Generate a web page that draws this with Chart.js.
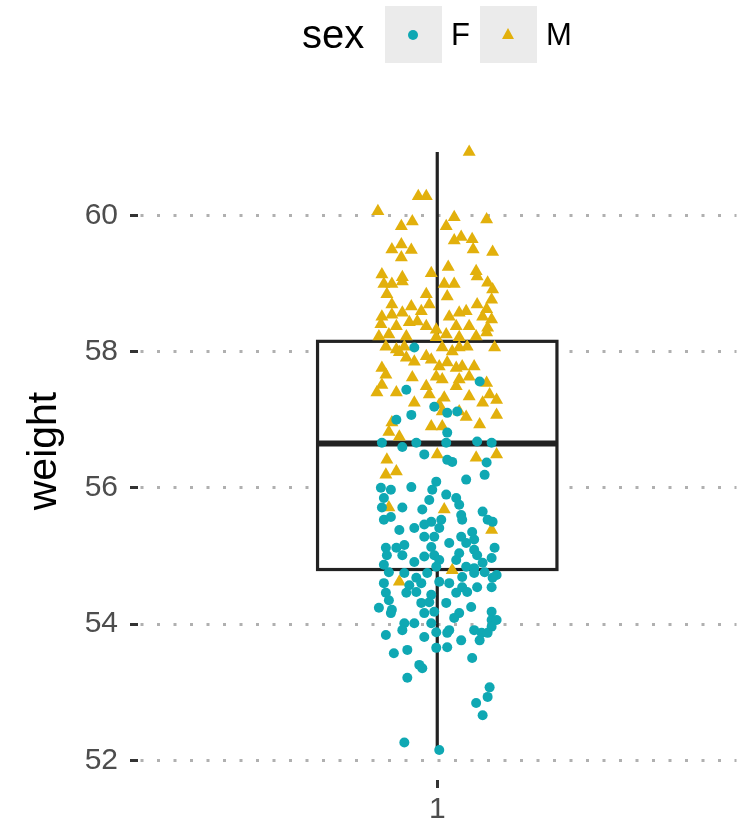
<!DOCTYPE html>
<html>
<head>
<meta charset="utf-8">
<script src="https://cdn.jsdelivr.net/npm/chart.js@4.4.0/dist/chart.umd.min.js"></script>
<style>
  body { margin: 0; background: #fff; font-family: "Liberation Sans", Arial, sans-serif; }
  #wrap { position: relative; width: 744px; height: 827px; }
  .lg { position: absolute; top: 6px; height: 57px; line-height: 57px; color: #000; }
  .key { position: absolute; top: 6px; width: 57px; height: 57px; background: #ebebeb; }
</style>
</head>
<body>
<div id="wrap">
  <canvas id="chart"></canvas>
  <!-- legend -->
  <div class="lg" style="left:302px; font-size:40px;">sex</div>
  <div class="key" style="left:385px;"><div style="position:absolute; left:23px; top:24px; width:10px; height:10px; border-radius:50%; background:#0FA8B3;"></div></div>
  <div class="lg" style="left:451px; font-size:31px;">F</div>
  <div class="key" style="left:480px;"><div style="position:absolute; left:22px; top:22px; width:0; height:0; border-left:6.5px solid transparent; border-right:6.5px solid transparent; border-bottom:11px solid #E2B00C;"></div></div>
  <div class="lg" style="left:546px; font-size:31px;">M</div>
</div>
<script>
// weight by sex, jittered around category 1
const categories = ['1'];
const yTicks = [52, 54, 56, 58, 60];
// [x (jittered), weight]
const femalePoints = [
  [0.954,58.06],[1.085,57.56],[0.938,57.44],[0.994,57.19],[0.948,57.07],[1.020,57.10],[1.040,57.12],[0.918,57.00],[1.020,56.81],
  [0.889,56.66],[0.930,56.60],[0.958,56.66],[1.018,56.66],[1.080,56.68],[1.109,56.66],[0.974,56.49],[1.020,56.41],[1.030,56.38],
  [1.099,56.37],[1.095,56.19],[1.058,56.12],[0.887,56.00],[0.907,55.97],[0.948,56.01],[0.998,56.09],[0.990,55.97],[0.893,55.85],
  [1.018,55.90],[1.038,55.85],[0.984,55.82],[1.044,55.75],[0.930,55.71],[0.889,55.71],[0.970,55.68],[1.091,55.65],[1.048,55.60],
  [0.893,55.53],[0.907,55.57],[0.988,55.50],[1.008,55.53],[1.050,55.53],[1.101,55.53],[1.111,55.50],[0.924,55.38],[0.954,55.41],
  [0.974,55.46],[1.004,55.41],[0.974,55.28],[1.070,55.35],[0.994,55.28],[1.048,55.28],[1.074,55.24],[0.897,55.12],[0.918,55.12],
  [0.934,55.16],[0.988,55.13],[1.024,55.19],[1.058,55.19],[1.074,55.09],[1.115,55.12],[0.899,55.01],[0.930,55.01],[0.974,54.99],
  [0.994,55.01],[1.044,55.04],[1.080,55.01],[1.109,54.97],[0.954,54.91],[1.004,54.94],[1.038,54.94],[0.893,54.87],[0.998,54.84],
  [1.058,54.84],[1.074,54.82],[1.091,54.90],[0.903,54.76],[0.934,54.75],[0.958,54.68],[0.980,54.75],[1.074,54.75],[1.095,54.76],
  [1.119,54.72],[1.050,54.69],[1.111,54.68],[0.893,54.60],[0.944,54.57],[0.968,54.60],[1.004,54.62],[1.024,54.60],[1.050,54.54],
  [1.080,54.54],[1.109,54.54],[0.897,54.46],[0.938,54.46],[0.958,54.47],[0.988,54.43],[1.038,54.46],[1.060,54.47],
  [0.903,54.35],[0.909,54.21],[0.883,54.24],[0.907,54.16],[0.968,54.31],[0.984,54.32],[0.974,54.16],[0.994,54.18],[1.018,54.31],
  [1.068,54.25],[1.044,54.16],[1.034,54.09],[1.109,54.18],[1.109,54.06],[1.119,54.06],[0.934,54.01],[0.954,54.01],[0.988,54.01],
  [1.024,53.91],[1.074,53.91],[1.089,53.87],[1.109,53.96],[1.101,53.87],[0.897,53.84],[0.930,53.91],[0.974,53.81],[0.998,53.88],
  [1.048,53.76],[1.020,53.87],[1.085,53.76],[0.998,53.65],[0.940,53.62],[0.913,53.57],[1.020,53.66],[1.070,53.50],[0.964,53.40],
  [0.970,53.35],[0.940,53.21],[1.105,53.07],[1.101,52.93],[1.078,52.84],[1.091,52.66],[0.934,52.26],[1.004,52.15]
];
const malePoints = [
  [1.064,60.93],[0.962,60.28],[0.978,60.28],[0.881,60.06],[0.928,59.84],[0.950,59.91],[1.034,59.97],[1.018,59.84],[1.099,59.94],
  [1.034,59.63],[1.048,59.68],[1.070,59.65],[1.072,59.50],[1.111,59.46],[0.909,59.50],[0.928,59.57],[0.948,59.49],[0.928,59.38],
  [0.889,59.13],[0.930,59.09],[0.988,59.15],[1.022,59.24],[1.078,59.18],[1.080,59.10],[0.893,58.99],[0.909,58.99],[0.930,59.03],
  [1.014,58.99],[1.034,58.99],[1.101,59.01],[1.111,58.91],[0.899,58.84],[0.978,58.84],[1.020,58.81],[1.109,58.76],[0.909,58.69],
  [0.948,58.66],[0.984,58.69],[1.080,58.69],[1.099,58.62],[0.889,58.51],[0.909,58.54],[0.930,58.57],[0.968,58.59],[1.024,58.51],
  [1.044,58.57],[1.058,58.59],[1.091,58.51],[1.109,58.47],[0.887,58.40],[0.918,58.37],[0.944,58.43],[0.960,58.44],[0.978,58.37],
  [0.998,58.32],[1.038,58.37],[1.064,58.37],[1.101,58.35],[0.883,58.22],[0.903,58.25],[0.938,58.22],[0.998,58.21],[1.018,58.25],
  [1.044,58.21],[1.078,58.22],[1.099,58.28],[0.897,58.07],[0.918,58.03],[0.934,58.07],[0.938,57.91],[1.010,58.06],[1.030,58.00],
  [1.044,58.06],[1.060,58.07],[1.115,58.06],[0.978,57.93],[0.924,57.99],[0.889,57.76],[0.954,57.85],[0.988,57.88],[1.004,57.78],
  [1.020,57.84],[1.038,57.76],[1.050,57.78],[1.074,57.78],[0.897,57.66],[0.950,57.62],[0.998,57.63],[1.010,57.59],[1.044,57.59],
  [1.064,57.63],[1.099,57.54],[0.889,57.51],[0.978,57.49],[1.038,57.49],[0.879,57.40],[0.918,57.40],[0.984,57.37],[1.014,57.32],
  [1.064,57.34],[1.105,57.37],[1.119,57.29],[0.954,57.25],[1.004,57.22],[1.091,57.25],[1.010,57.12],[1.044,57.12],[1.119,57.07],
  [1.058,57.04],[0.988,56.90],[1.085,56.93],[0.909,56.96],[0.903,56.82],[1.010,56.90],[0.924,56.75],[0.899,56.41],[1.000,56.49],
  [1.078,56.44],[1.119,56.49],[0.918,56.24],[0.897,56.19],[0.903,55.71],[1.014,55.68],[1.109,55.38],[1.030,54.79],[0.924,54.62]
];
// lower whisker, Q1, median, Q3, upper whisker
const boxValues = [52.15, 54.8, 56.65, 58.15, 60.93];

const BOX_HALF = 0.24;

const boxPlugin = {
  id: 'box',
  beforeDatasetsDraw(chart) {
    const { ctx, scales: { x, y } } = chart;
    const [lo, q1, med, q3, hi] = boxValues.map(v => y.getPixelForValue(v));
    const cx = x.getPixelForValue(1);
    const left = x.getPixelForValue(1 - BOX_HALF);
    const right = x.getPixelForValue(1 + BOX_HALF);
    ctx.save();
    ctx.strokeStyle = '#222';
    ctx.lineWidth = 3.2;
    ctx.beginPath();
    ctx.moveTo(cx, hi); ctx.lineTo(cx, q3);
    ctx.moveTo(cx, q1); ctx.lineTo(cx, lo);
    ctx.stroke();
    ctx.fillStyle = '#fff';
    ctx.fillRect(left, q3, right - left, q1 - q3);
    ctx.strokeRect(left, q3, right - left, q1 - q3);
    ctx.lineWidth = 6;
    ctx.beginPath();
    ctx.moveTo(left, med); ctx.lineTo(right, med);
    ctx.stroke();
    ctx.restore();
  }
};

const tickFont = { family: '"Liberation Sans", Arial, sans-serif', size: 30 };

new Chart(document.getElementById('chart'), {
  type: 'scatter',
  data: {
    datasets: [
      {
        label: 'F',
        data: femalePoints.map(p => ({ x: p[0], y: p[1] })),
        pointStyle: 'circle',
        pointRadius: 5,
        borderWidth: 0,
        backgroundColor: '#0FA8B3'
      },
      {
        label: 'M',
        data: malePoints.map(p => ({ x: p[0], y: p[1] })),
        pointStyle: 'triangle',
        pointRadius: 7.5,
        borderWidth: 0,
        backgroundColor: '#E2B00C'
      }
    ]
  },
  options: {
    responsive: true,
    maintainAspectRatio: false,
    animation: false,
    layout: { padding: { top: 122, left: 20, right: 6, bottom: 0 } },
    plugins: { legend: { display: false }, tooltip: { enabled: false } },
    scales: {
      x: {
        type: 'linear',
        min: 0.4,
        max: 1.6,
        afterBuildTicks: s => { s.ticks = categories.map((c, i) => ({ value: i + 1 })); },
        afterFit: s => { s.height = 47; },
        ticks: {
          callback: v => categories[v - 1],
          color: '#4d4d4d',
          font: tickFont,
          padding: 4,
          maxRotation: 0
        },
        grid: {
          drawOnChartArea: false,
          drawTicks: true,
          tickLength: 8,
          tickColor: '#333',
          tickWidth: 3
        },
        border: { display: false }
      },
      y: {
        min: 51.71,
        max: 61.37,
        afterBuildTicks: s => { s.ticks = yTicks.map(v => ({ value: v })); },
        afterFit: s => { s.width = 118; },
        ticks: {
          color: '#4d4d4d',
          font: tickFont,
          padding: 12
        },
        grid: {
          color: '#b0b0b0',
          lineWidth: 3,
          tickLength: 8,
          tickColor: '#333',
          tickWidth: 3,
          tickBorderDash: []
        },
        border: { display: false, dash: [3, 13.5], dashOffset: 14 },
        title: {
          display: true,
          text: 'weight',
          color: '#000',
          font: { family: '"Liberation Sans", Arial, sans-serif', size: 41 },
          padding: 0
        }
      }
    }
  },
  plugins: [boxPlugin]
});
</script>
</body>
</html>
